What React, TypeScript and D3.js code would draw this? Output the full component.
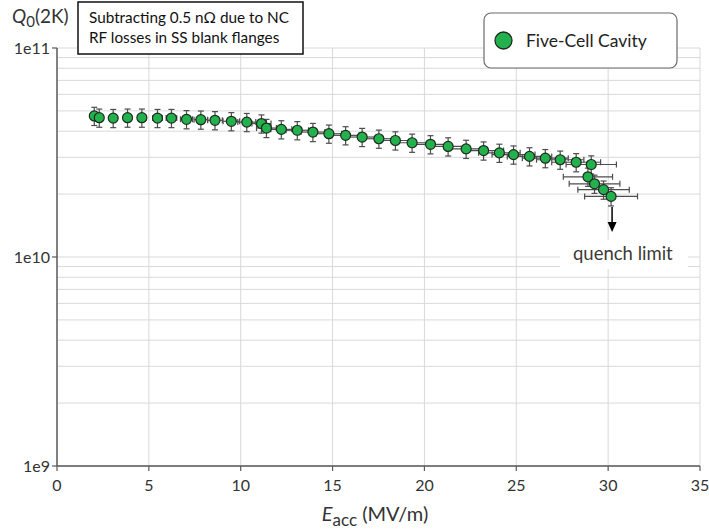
import React from "react";
import * as d3 from "d3";

const eacc = [2.03, 2.30, 3.06, 3.84, 4.62, 5.47, 6.23, 7.05, 7.83, 8.60, 9.49, 10.33, 11.13, 11.40, 12.21, 13.08, 13.93, 14.80, 15.71, 16.61, 17.52, 18.42, 19.33, 20.33, 21.29, 22.27, 23.22, 24.08, 24.85, 25.72, 26.58, 27.39, 28.26, 29.08, 28.90, 29.26, 29.75, 30.16];
const q0 = [4.73e10, 4.64e10, 4.62e10, 4.64e10, 4.64e10, 4.62e10, 4.62e10, 4.56e10, 4.54e10, 4.51e10, 4.46e10, 4.42e10, 4.35e10, 4.14e10, 4.08e10, 4.04e10, 3.96e10, 3.89e10, 3.82e10, 3.75e10, 3.68e10, 3.61e10, 3.52e10, 3.46e10, 3.38e10, 3.29e10, 3.23e10, 3.15e10, 3.09e10, 3.03e10, 2.97e10, 2.92e10, 2.84e10, 2.77e10, 2.42e10, 2.24e10, 2.10e10, 1.95e10];
const eaccErr = [0.10, 0.11, 0.14, 0.18, 0.22, 0.26, 0.29, 0.33, 0.37, 0.40, 0.45, 0.49, 0.52, 0.54, 0.57, 0.61, 0.65, 0.70, 0.74, 0.78, 0.82, 0.87, 0.91, 0.96, 1.00, 1.05, 1.09, 1.13, 1.17, 1.21, 1.25, 1.29, 1.33, 1.37, 1.34, 1.38, 1.40, 1.44];
const q0ErrRel = [0.1, 0.1, 0.1, 0.1, 0.1, 0.1, 0.1, 0.1, 0.1, 0.1, 0.1, 0.1, 0.1, 0.1, 0.1, 0.1, 0.1, 0.1, 0.1, 0.1, 0.1, 0.1, 0.1, 0.1, 0.1, 0.1, 0.1, 0.1, 0.1, 0.1, 0.1, 0.1, 0.1, 0.1, 0.1, 0.1, 0.1, 0.1];

const xTicks = [0, 5, 10, 15, 20, 25, 30, 35];
const yTickVals = [1e9, 1e10, 1e11];
const yTickLabels = ["1e9", "1e10", "1e11"];
const seriesName = "Five-Cell Cavity";
const noteLines = ["Subtracting 0.5 nΩ due to NC", "RF losses in SS blank flanges"];
const quenchLabel = "quench limit";

const FONT = "Lato, 'Open Sans', sans-serif";
const GREEN = "#22b14c";
const GRID = "#d9d9d9";
const AXIS = "#595959";
const BAR = "#4d4d4d";

export default function App() {
  const W = 709, H = 529;
  const x = d3.scaleLinear().domain([0, 35]).range([57, 700]);
  const y = d3.scaleLog().domain([1e9, 1e11]).range([466, 48]);
  const hGrid = y.ticks();
  const pts = eacc.map((e, i) => ({ e, q: q0[i], ee: eaccErr[i], qe: q0ErrRel[i] }));
  const last = pts[pts.length - 1];
  const ax = x(last.e);

  return (
    <svg width={W} height={H} style={{ position: "absolute", left: 0, top: 0, background: "#fff" }} fontFamily={FONT}>
      {/* grid */}
      {hGrid.map((v, i) => (
        <line key={"h" + i} x1={x(0)} x2={x(35)} y1={y(v)} y2={y(v)} stroke={GRID} strokeWidth={1} />
      ))}
      {xTicks.filter((t) => t > 0).map((t) => (
        <line key={"v" + t} x1={x(t)} x2={x(t)} y1={y(1e11)} y2={y(1e9)} stroke={GRID} strokeWidth={1} />
      ))}
      {/* axes */}
      <line x1={x(0)} x2={x(0)} y1={y(1e11)} y2={y(1e9)} stroke={AXIS} strokeWidth={1.5} />
      <line x1={x(0)} x2={x(35)} y1={y(1e9)} y2={y(1e9)} stroke={AXIS} strokeWidth={1.5} />
      {yTickVals.map((v, i) => (
        <g key={"yt" + i}>
          <line x1={x(0) - 5} x2={x(0)} y1={y(v)} y2={y(v)} stroke={AXIS} strokeWidth={1.2} />
          <text x={x(0) - 7} y={y(v)} dy="0.35em" textAnchor="end" fontSize={16} fill="#333">{yTickLabels[i]}</text>
        </g>
      ))}
      {xTicks.map((t) => (
        <g key={"xt" + t}>
          <line x1={x(t)} x2={x(t)} y1={y(1e9)} y2={y(1e9) + 5} stroke={AXIS} strokeWidth={1.2} />
          <text x={x(t)} y={y(1e9) + 25} textAnchor="middle" fontSize={16} fill="#333">{t}</text>
        </g>
      ))}
      {/* axis titles */}
      <text x={12} y={23} fontSize={19} fill="#333">
        <tspan fontStyle="italic">Q</tspan>
        <tspan fontSize={15} dy={4}>0</tspan>
        <tspan dy={-4}>(2K)</tspan>
      </text>
      <text x={375} y={521} textAnchor="middle" fontSize={20} fill="#333">
        <tspan fontStyle="italic">E</tspan>
        <tspan fontSize={17} dy={5}>acc</tspan>
        <tspan dy={-5}> (MV/m)</tspan>
      </text>

      {/* quench annotation */}
      <rect x={560} y={240} width={128} height={29} fill="#fff" />
      <text x={573} y={260} fontSize={18.5} fill="#3d3a36">{quenchLabel}</text>
      <line x1={ax + 1} x2={ax + 1} y1={207} y2={223} stroke="#000" strokeWidth={1.5} />
      <path d={`M${ax + 1 - 4.5},${222} L${ax + 1 + 4.5},${222} L${ax + 1},${232} Z`} fill="#000" />

      {/* error bars */}
      {pts.map((p, i) => {
        const cx = x(p.e), cy = y(p.q);
        const x1 = x(p.e - p.ee), x2 = x(p.e + p.ee);
        const y1 = y(p.q * (1 + p.qe)), y2 = y(p.q * (1 - p.qe));
        return (
          <g key={"eb" + i} stroke={BAR} strokeWidth={1.2}>
            <line x1={x1} x2={x2} y1={cy} y2={cy} />
            <line x1={x1} x2={x1} y1={cy - 3} y2={cy + 3} />
            <line x1={x2} x2={x2} y1={cy - 3} y2={cy + 3} />
            <line x1={cx} x2={cx} y1={y1} y2={y2} />
            <line x1={cx - 3} x2={cx + 3} y1={y1} y2={y1} />
            <line x1={cx - 3} x2={cx + 3} y1={y2} y2={y2} />
          </g>
        );
      })}
      {/* markers */}
      {pts.map((p, i) => (
        <circle key={"m" + i} cx={x(p.e)} cy={y(p.q)} r={5} fill={GREEN} stroke="#1e2a1e" strokeWidth={1.2} />
      ))}

      {/* note box */}
      <rect x={78} y={2} width={225} height={52} fill="#fff" stroke="#111" strokeWidth={1.5} />
      {noteLines.map((l, i) => (
        <text key={"n" + i} x={89} y={23 + i * 20} fontSize={15.3} fill="#111">{l}</text>
      ))}

      {/* legend */}
      <rect x={484} y={13} width={193} height={55} rx={7} ry={7} fill="#fff" stroke="#6b6b6b" strokeWidth={1.2} />
      <circle cx={503.5} cy={40.5} r={8.5} fill={GREEN} stroke="#1e2a1e" strokeWidth={1.3} />
      <text x={526} y={47} fontSize={17.5} fill="#222">{seriesName}</text>
    </svg>
  );
}
